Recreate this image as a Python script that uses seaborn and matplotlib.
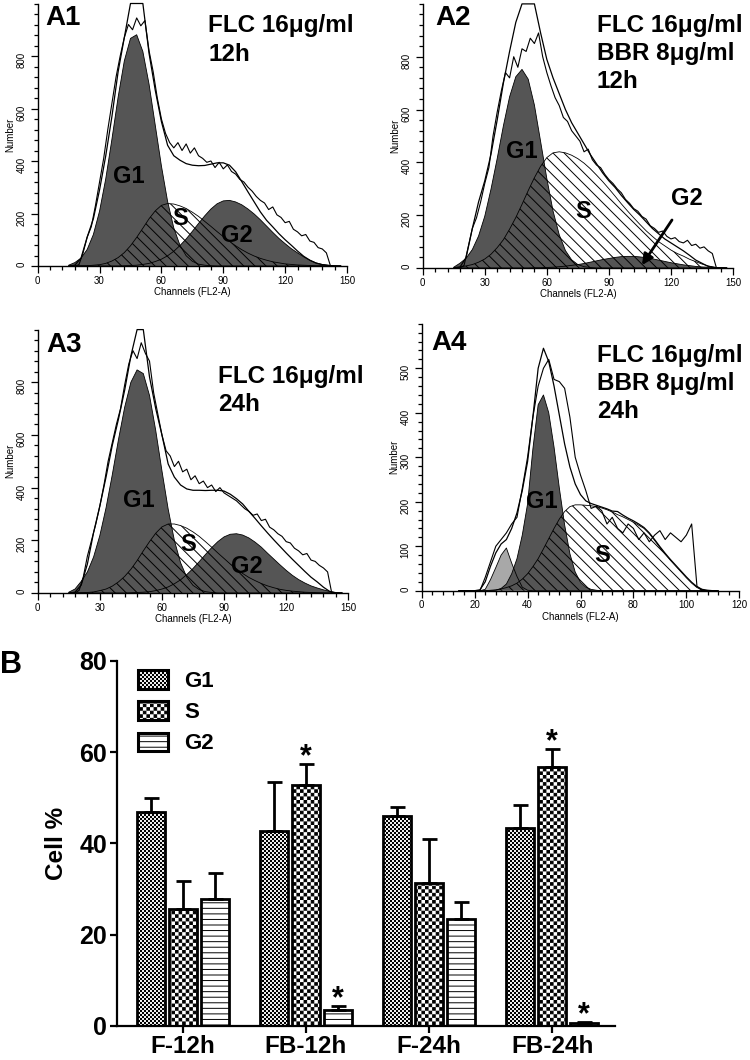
import warnings
warnings.filterwarnings('ignore')
import numpy as np
import pandas as pd
import matplotlib
matplotlib.use('Agg')
import matplotlib.pyplot as plt
import matplotlib.patches as mpatches
from matplotlib import hatch as mhatch
from matplotlib.path import Path
from matplotlib.ticker import MultipleLocator
import seaborn as sns

# ---------------- data: flow cytometry histograms (A panels) ----------------
CH = list(range(15, 148, 3))          # channel grid of fitted curves (A1-A3)
RAW_CH = list(range(18, 143, 2))      # channel grid of raw histogram (A1-A3)
CH4 = list(range(14, 113, 2))         # channel grid of fitted curves (A4)
RAW_CH4 = list(range(22, 109, 2))     # channel grid of raw histogram (A4)

A1_G1 = [3, 13, 30, 63, 120, 209, 332, 483, 643, 781, 867, 881, 817, 693, 537, 381, 246, 145, 79, 39,
         18, 7, 3, 1] + [0] * 21
A1_S = [0, 0, 1, 1, 3, 5, 10, 19, 32, 51, 77, 109, 144, 180, 210, 231, 238, 236, 229, 219,
        205, 189, 170, 151, 131, 112, 94, 77, 62, 49, 38, 29, 22, 16, 12, 8, 6, 4, 3, 2, 1, 1, 0, 0, 0]
A1_G2 = [0] * 9 + [1, 2, 3, 6, 10, 17, 26, 39, 56, 78, 103, 132, 162, 191, 217, 237, 248, 250, 244, 233,
                   217, 198, 176, 152, 128, 105, 85, 66, 50, 35, 22, 12, 6, 3, 1, 0]
A1_ENV = [0, 3, 30, 110, 180, 290, 420, 570, 740, 870, 1000, 1000, 1000, 810, 670, 550, 460, 420, 403, 390,
          384, 382, 383, 388, 393, 393, 384, 359, 321, 282, 244, 206, 174, 149, 123, 100, 79, 57, 37, 22,
          11, 5, 2, 0, 0]
A1_RAW = [0, 5, 50, 110, 150, 230, 320, 410, 520, 620, 720, 800, 870, 920, 900, 945, 915, 935, 820, 740,
          640, 560, 505, 470, 450, 470, 440, 465, 430, 450, 420, 410, 395, 400, 375, 395, 370, 385, 360, 350,
          330, 320, 300, 285, 265, 250, 240, 215, 225, 195, 185, 165, 170, 140, 130, 115, 120, 95, 90, 70,
          65, 50, 0]

A2_G1 = [3, 18, 37, 70, 121, 196, 298, 414, 538, 648, 724, 752, 715, 617, 479, 339, 216, 126, 66, 31,
         13, 5, 2] + [0] * 22
A2_S = [2, 4, 8, 13, 22, 34, 52, 77, 107, 147, 191, 241, 293, 342, 385, 418, 436, 440, 436, 427,
        414, 397, 376, 352, 327, 300, 272, 243, 216, 190, 165, 141, 120, 100, 84, 68, 55, 45, 33, 24,
        15, 8, 3, 1, 0]
A2_G2 = [0] * 13 + [1, 1, 2, 3, 5, 7, 10, 13, 17, 22, 27, 32, 36, 40, 43, 44, 44, 42, 39, 35,
                    30, 25, 20, 16, 12, 9, 6, 4, 3, 2, 1, 0]
A2_ENV = [0, 3, 40, 150, 250, 330, 430, 560, 700, 820, 930, 1000, 1000, 1000, 890, 790, 720, 660, 600, 550,
          510, 470, 430, 395, 360, 330, 305, 275, 248, 222, 200, 175, 150, 130, 110, 95, 80, 65, 48, 30,
          18, 6, 2, 0, 0]
A2_RAW = [0, 10, 80, 150, 190, 250, 320, 380, 500, 590, 670, 740, 720, 800, 760, 830, 820, 870, 850, 890,
          800, 740, 690, 645, 615, 570, 555, 520, 500, 480, 440, 450, 410, 390, 380, 355, 335, 320, 300, 285,
          260, 245, 225, 215, 195, 185, 160, 150, 135, 140, 120, 110, 115, 100, 95, 105, 85, 90, 75, 80,
          65, 55, 0]

A3_G1 = [3, 15, 44, 80, 137, 218, 323, 448, 582, 705, 800, 847, 833, 750, 617, 464, 319, 200, 115, 60,
         29, 13, 5, 2] + [0] * 21
A3_S = [0, 1, 1, 2, 4, 9, 15, 26, 42, 63, 90, 123, 160, 195, 227, 251, 262, 262, 256, 246,
        232, 215, 195, 174, 152, 131, 110, 92, 74, 59, 47, 36, 27, 20, 14, 10, 7, 5, 3, 2, 1, 0, 0, 0, 0]
A3_G2 = [0] * 10 + [1, 2, 3, 5, 9, 15, 23, 35, 50, 70, 93, 119, 146, 172, 195, 213, 223, 225, 220, 209,
                    193, 174, 151, 129, 107, 86, 67, 51, 38, 27, 19, 12, 6, 2, 0]
A3_ENV = [0, 3, 30, 110, 230, 330, 440, 560, 660, 770, 900, 1000, 1000, 820, 700, 600, 490, 440, 410, 395,
          390, 390, 389, 390, 390, 387, 375, 358, 338, 310, 283, 255, 228, 202, 177, 152, 128, 105, 82, 60,
          42, 22, 6, 0, 0]
A3_RAW = [0, 10, 60, 140, 200, 260, 330, 410, 500, 570, 640, 700, 790, 870, 920, 890, 950, 910, 880, 760,
          680, 600, 540, 520, 480, 500, 460, 470, 430, 445, 415, 425, 400, 410, 385, 400, 380, 370, 360, 350,
          335, 320, 310, 295, 300, 275, 280, 250, 240, 225, 215, 195, 190, 170, 160, 145, 150, 125, 120, 105,
          95, 80, 0]

A4_SUB = [0] * 5 + [3, 25, 52, 80, 96, 62, 32, 8, 1] + [0] * 36
A4_G1 = [0] * 7 + [1, 5, 15, 38, 72, 125, 195, 318, 418, 440, 400, 323, 231, 148, 83, 42, 19, 8, 3, 1] + [0] * 23
A4_S = [0] * 5 + [0, 1, 2, 4, 7, 11, 17, 26, 38, 54, 72, 94, 117, 140, 161, 178, 189, 193, 193, 192,
                  191, 189, 186, 182, 177, 171, 166, 160, 154, 147, 140, 128, 113, 97, 82, 68, 55, 42, 29, 17,
                  7, 2, 0, 0, 0]
A4_ENV = [0, 0, 0, 0, 2, 20, 55, 85, 105, 115, 140, 175, 225, 290, 390, 500, 545, 515, 460, 395,
          330, 278, 240, 216, 202, 196, 192, 188, 184, 179, 178, 170, 163, 157, 150, 142, 130, 115, 99, 84,
          70, 57, 44, 31, 19, 9, 3, 1, 0, 0]
A4_RAW = [0, 30, 65, 100, 115, 130, 150, 165, 230, 300, 390, 460, 500, 520, 475, 470, 455, 390, 300, 260,
          225, 185, 190, 180, 150, 165, 140, 130, 150, 140, 115, 130, 110, 125, 135, 115, 130, 120, 110, 125,
          150, 10, 0, 0]

# ---------------- data: cell-cycle percentages (B panel) ----------------
GROUPS = ['F-12h', 'FB-12h', 'F-24h', 'FB-24h']
PHASES = ['G1', 'S', 'G2']
G1_MEAN = [46.8, 42.7, 46.0, 43.4]
G1_ERR = [3.2, 10.8, 2.0, 5.0]
S_MEAN = [25.7, 52.7, 31.2, 56.8]
S_ERR = [6.1, 4.7, 9.7, 3.9]
G2_MEAN = [27.7, 3.4, 23.3, 0.6]
G2_ERR = [5.9, 0.9, 3.9, 0.2]
STARS = [('FB-12h', 'S'), ('FB-12h', 'G2'), ('FB-24h', 'S'), ('FB-24h', 'G2')]


# ---------------- checkerboard hatches ----------------
class _Checker(mhatch.HatchPatternBase):
    symbol = 'c'
    cells = 28

    def __init__(self, hatch, density):
        on = hatch is not None and hatch.count(self.symbol) > 0
        self.n = self.cells if on else 0
        self.num_vertices = (self.n * self.n // 2) * 5

    def set_vertices_and_codes(self, vertices, codes):
        n = self.n
        s = 1.0 / n
        sh = min(0.45 * s, 0.7 / 72.0)
        h = s - sh
        k = 0
        for i in range(n):
            for j in range(n):
                if (i + j) % 2:
                    continue
                x0 = i * s + sh / 2
                y0 = j * s + sh / 2
                vertices[k:k + 5] = [(x0, y0), (x0 + h, y0), (x0 + h, y0 + h), (x0, y0 + h), (x0, y0)]
                codes[k] = Path.MOVETO
                codes[k + 1:k + 4] = Path.LINETO
                codes[k + 4] = Path.CLOSEPOLY
                k += 5


class _FineChecker(_Checker):
    symbol = 'k'
    cells = 50


mhatch._hatch_types.extend([_Checker, _FineChecker])

# ---------------- style ----------------
sns.set_style('ticks')
plt.rcParams['font.family'] = ['Liberation Sans', 'DejaVu Sans']
plt.rcParams.update({
    'hatch.linewidth': 0.7,
    'axes.edgecolor': 'black', 'text.color': 'black', 'axes.labelcolor': 'black',
    'xtick.color': 'black', 'ytick.color': 'black',
})

W, H = 750, 1060
fig = plt.figure(figsize=(7.5, 10.6), dpi=100)


def add_ax(left, top, right, bottom):
    return fig.add_axes([left / W, 1 - bottom / H, (right - left) / W, (bottom - top) / H])


def ftext(x, y, s, size, **kw):
    fig.text(x / W, 1 - y / H, s, fontsize=size, fontweight='bold', ha='left', va='baseline', **kw)


DARK = '#555555'
LIGHT = '#a8a8a8'


def draw_hist(ax, ch, g1, s, g2, env, raw_ch, raw, sub=None):
    if sub is not None:
        ax.fill_between(ch, 0, sub, facecolor=LIGHT, edgecolor='none', linewidth=0, zorder=1)
    ax.fill_between(ch, 0, g1, facecolor=DARK, edgecolor='none', linewidth=0, zorder=2)
    if g2 is not None:
        ax.fill_between(ch, 0, g2, facecolor=DARK, edgecolor='none', linewidth=0, zorder=2)
    ax.fill_between(ch, 0, s, facecolor='none', edgecolor='black', hatch='\\\\\\', linewidth=0, zorder=3)
    for comp in (sub, g1, g2, s):
        if comp is not None:
            sns.lineplot(x=ch, y=comp, ax=ax, color='black', linewidth=0.6, estimator=None, zorder=4)
    sns.lineplot(x=ch, y=env, ax=ax, color='black', linewidth=0.9, estimator=None, zorder=5)
    ax.lines[-1].set_clip_on(False)
    sns.lineplot(x=raw_ch, y=raw, ax=ax, color='black', linewidth=0.8, estimator=None, zorder=5)


def style_hist(ax, xmax, xmaj, xmin, ymax, yticks, ymin):
    ax.set_xlim(0, xmax)
    ax.set_ylim(0, ymax)
    ax.xaxis.set_major_locator(MultipleLocator(xmaj))
    ax.xaxis.set_minor_locator(MultipleLocator(xmin))
    ax.set_yticks(yticks)
    ax.yaxis.set_minor_locator(MultipleLocator(ymin))
    sns.despine(ax=ax)
    for sp in ('left', 'bottom'):
        ax.spines[sp].set_linewidth(1.0)
    ax.tick_params(which='major', length=5, width=0.9, labelsize=7, pad=2)
    ax.tick_params(which='minor', length=3, width=0.9)
    ax.tick_params(axis='y', labelrotation=90, pad=3)
    ax.set_xlabel('Channels (FL2-A)', fontsize=7, labelpad=1)
    ax.set_ylabel('Number', fontsize=7, labelpad=1)


LBL = dict(fontsize=17, fontweight='bold', ha='center', va='center', zorder=6)

# ---- A1 ----
ax1 = add_ax(37.7, 3.5, 347, 266)
draw_hist(ax1, CH, A1_G1, A1_S, A1_G2, A1_ENV, RAW_CH, A1_RAW)
style_hist(ax1, 150, 30, 6, 1000, [0, 200, 400, 600, 800], 40)
ax1.text(44.2, 340, 'G1', **LBL)
ax1.text(69, 182, 'S', **LBL)
ax1.text(96.6, 118, 'G2', **LBL)

# ---- A2 ----
ax2 = add_ax(422.7, 3.9, 733, 268)
draw_hist(ax2, CH, A2_G1, A2_S, A2_G2, A2_ENV, RAW_CH, A2_RAW)
style_hist(ax2, 150, 30, 6, 1000, [0, 200, 400, 600, 800], 40)
ax2.text(47.8, 440, 'G1', **LBL)
ax2.text(77.5, 213, 'S', **LBL)
ax2.annotate('G2', xy=(106, 11), xytext=(127.5, 264), fontsize=17, fontweight='bold',
             ha='center', va='center', zorder=6,
             arrowprops=dict(arrowstyle='-|>', color='black', lw=2, mutation_scale=16, shrinkA=6, shrinkB=0))

# ---- A3 ----
ax3 = add_ax(37.7, 329.6, 348.3, 593)
draw_hist(ax3, CH, A3_G1, A3_S, A3_G2, A3_ENV, RAW_CH, A3_RAW)
style_hist(ax3, 150, 30, 6, 1000, [0, 200, 400, 600, 800], 40)
ax3.text(48.6, 353, 'G1', **LBL)
ax3.text(72.7, 186, 'S', **LBL)
ax3.text(100.9, 100, 'G2', **LBL)

# ---- A4 ----
ax4 = add_ax(421.7, 323.8, 739.3, 590.7)
draw_hist(ax4, CH4, A4_G1, A4_S, None, A4_ENV, RAW_CH4, A4_RAW, sub=A4_SUB)
style_hist(ax4, 120, 20, 4, 600, [0, 100, 200, 300, 400, 500], 20)
ax4.text(45.3, 200, 'G1', **LBL)
ax4.text(68, 80, 'S', **LBL)

# panel titles
TS = 17.5
ftext(45, 25, 'A1', 20)
ftext(208, 31.7, 'FLC 16μg/ml', TS)
ftext(208, 61.0, '12h', TS)
ftext(435, 25, 'A2', 20)
ftext(596.7, 31.7, 'FLC 16μg/ml', TS)
ftext(596.7, 60.0, 'BBR 8μg/ml', TS)
ftext(596.7, 88.0, '12h', TS)
ftext(46.7, 351.7, 'A3', 20)
ftext(218.3, 383.3, 'FLC 16μg/ml', TS)
ftext(218.3, 411.0, '24h', TS)
ftext(431.7, 350, 'A4', 20)
ftext(596.7, 361.7, 'FLC 16μg/ml', TS)
ftext(596.7, 390.0, 'BBR 8μg/ml', TS)
ftext(596.7, 418.3, '24h', TS)
ftext(0, 673.3, 'B', 22)

# ---- B ----
axB = add_ax(117, 661, 615, 1025.7)
df = pd.DataFrame({
    'group': GROUPS * 3,
    'phase': ['G1'] * 4 + ['S'] * 4 + ['G2'] * 4,
    'value': G1_MEAN + S_MEAN + G2_MEAN,
})
sns.barplot(data=df, x='group', y='value', hue='phase', order=GROUPS, hue_order=PHASES,
            palette=['white'] * 3, saturation=1, edgecolor='black', linewidth=2.0,
            width=0.78, gap=0.12, errorbar=None, legend=False, ax=axB)
HATCHES = ['k', 'c', '---']
ERRS = [G1_ERR, S_ERR, G2_ERR]
MEANS = [G1_MEAN, S_MEAN, G2_MEAN]
bar_x = {}
for cont, hatch, err, mean, ph in zip(axB.containers, HATCHES, ERRS, MEANS, PHASES):
    xs = []
    for bar, g in zip(cont, GROUPS):
        bar.set_hatch(hatch)
        xc = bar.get_x() + bar.get_width() / 2
        xs.append(xc)
        bar_x[(g, ph)] = xc
    axB.errorbar(xs, mean, yerr=[np.zeros(len(err)), err], fmt='none', ecolor='black',
                 elinewidth=2, capsize=5.4, capthick=2, zorder=3)

top = {}
for ph, mean, err in zip(PHASES, MEANS, ERRS):
    for g, m, e in zip(GROUPS, mean, err):
        top[(g, ph)] = m + e
for g, ph in STARS:
    axB.text(bar_x[(g, ph)], top[(g, ph)] - 0.3, '*', ha='center', va='baseline',
             fontsize=22, fontweight='bold')

axB.set_xlim(-0.534, 3.51)
axB.set_ylim(0, 80)
axB.set_yticks([0, 20, 40, 60, 80])
sns.despine(ax=axB)
for sp in ('left', 'bottom'):
    axB.spines[sp].set_linewidth(1.6)
axB.tick_params(length=5, width=1.6)
axB.tick_params(axis='y', labelsize=18, pad=2)
axB.tick_params(axis='x', labelsize=17.5, pad=1.5)
for lab in axB.get_xticklabels() + axB.get_yticklabels():
    lab.set_fontweight('bold')
axB.set_xlabel('')
axB.set_ylabel('Cell %', fontsize=17.5, fontweight='bold', labelpad=8)

handles = [mpatches.Patch(facecolor='white', edgecolor='black', linewidth=2.2, hatch=h, label=p)
           for p, h in zip(PHASES, HATCHES)]
axB.legend(handles=handles, loc='upper left', bbox_to_anchor=(0.042, 0.975), frameon=False,
           prop=dict(weight='bold', size=16), handlelength=1.35, handleheight=0.9,
           handletextpad=0.75, labelspacing=0.42, borderpad=0, borderaxespad=0)

fig.savefig('out.png', dpi=100)
